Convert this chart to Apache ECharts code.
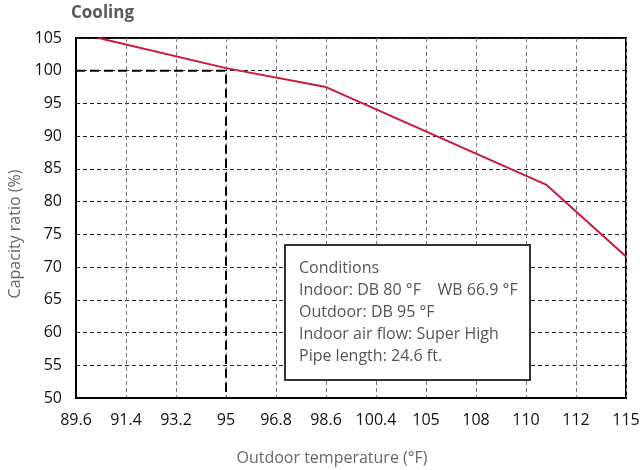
<!DOCTYPE html>
<html>
<head>
<meta charset="utf-8">
<script src="https://cdn.jsdelivr.net/npm/echarts@6/dist/echarts.min.js"></script>
<style>html,body{margin:0;padding:0;background:#fff}#c{width:640px;height:470px}</style>
</head>
<body>
<div id="c"></div>
<script>
// Tick labels of the (evenly spaced) outdoor temperature axis
var xLabels = ['89.6','91.4','93.2','95','96.8','98.6','100.4','105','108','110','112','115'];
// Capacity curve: positions along the label index scale, and capacity ratio (%)
var capX = [0.45, 3, 5, 9.4, 11];
var capY = [105, 100.4, 97.5, 82.6, 71.6];
// Rated reference (95 °F -> 100 %)
var refX = [0, 3, 3];
var refY = [100, 100, 50];
var conditions = [
  'Conditions',
  'Indoor: DB 80 \u00B0F    WB 66.9 \u00B0F',
  'Outdoor: DB 95 \u00B0F',
  'Indoor air flow: Super High',
  'Pipe length: 24.6 ft.'
];

var font = "'Open Sans', 'Noto Sans', sans-serif";
function pairs(xs, ys){ return xs.map(function(x,i){ return [x, ys[i]]; }); }

var chart = echarts.init(document.getElementById('c'), null, {renderer:'canvas'});
chart.setOption({
  animation: false,
  textStyle: {fontFamily: font},
  title: {
    text: 'Cooling', left: 71, top: 5, padding: 0,
    textStyle: {fontFamily: font, fontSize: 17, fontWeight: 'bold', color: '#595959'}
  },
  grid: {left: 76, right: 14, top: 38, bottom: 72, show: true, borderColor: '#000', borderWidth: 2,
         backgroundColor: 'transparent', containLabel: false, outerBoundsMode: 'none'},
  xAxis: {
    type: 'value', min: 0, max: 11, interval: 1,
    name: 'Outdoor temperature (\u00B0F)', nameLocation: 'middle', nameGap: 52,
    nameTextStyle: {fontFamily: font, fontSize: 16, color: '#666', padding: [0, 38, 0, 0]},
    axisLine: {show: true, lineStyle: {color: '#000', width: 2}},
    axisTick: {show: false},
    axisLabel: {fontFamily: font, fontSize: 16, color: '#111', margin: 14,
      formatter: function(v){ return xLabels[Math.round(v)] || ''; }},
    splitLine: {show: true, lineStyle: {color: '#777', type: [4, 3], width: 1}}
  },
  yAxis: {
    type: 'value', min: 50, max: 105, interval: 5,
    name: 'Capacity ratio (%)', nameLocation: 'middle', nameGap: 52,
    nameTextStyle: {fontFamily: font, fontSize: 16, color: '#666', padding: [0, 32, 0, 0]},
    axisLine: {show: true, lineStyle: {color: '#000', width: 2}},
    axisTick: {show: false},
    axisLabel: {fontFamily: font, fontSize: 16, color: '#111', margin: 14},
    splitLine: {show: true, lineStyle: {color: '#222', type: [4, 3], width: 1}}
  },
  graphic: [{
    type: 'group', left: 284, top: 244, z: 100,
    children: [
      {type: 'rect', z: 100, shape: {x: 0, y: 0, width: 245, height: 135},
       style: {fill: '#fff', stroke: '#333', lineWidth: 2}},
      {type: 'text', z: 101, x: 14, y: 13,
       style: {text: conditions.join('\n'), fontFamily: font, fontSize: 16, lineHeight: 21.8, fill: '#555'}}
    ]
  }],
  series: [
    {
      type: 'line', data: pairs(refX, refY), symbol: 'none', silent: true,
      lineStyle: {color: '#000', width: 2, type: [9, 5]}, z: 3
    },
    {
      type: 'line', data: pairs(capX, capY), symbol: 'none',
      lineStyle: {color: '#c8193c', width: 2}, z: 4
    }
  ]
});
</script>
</body>
</html>
